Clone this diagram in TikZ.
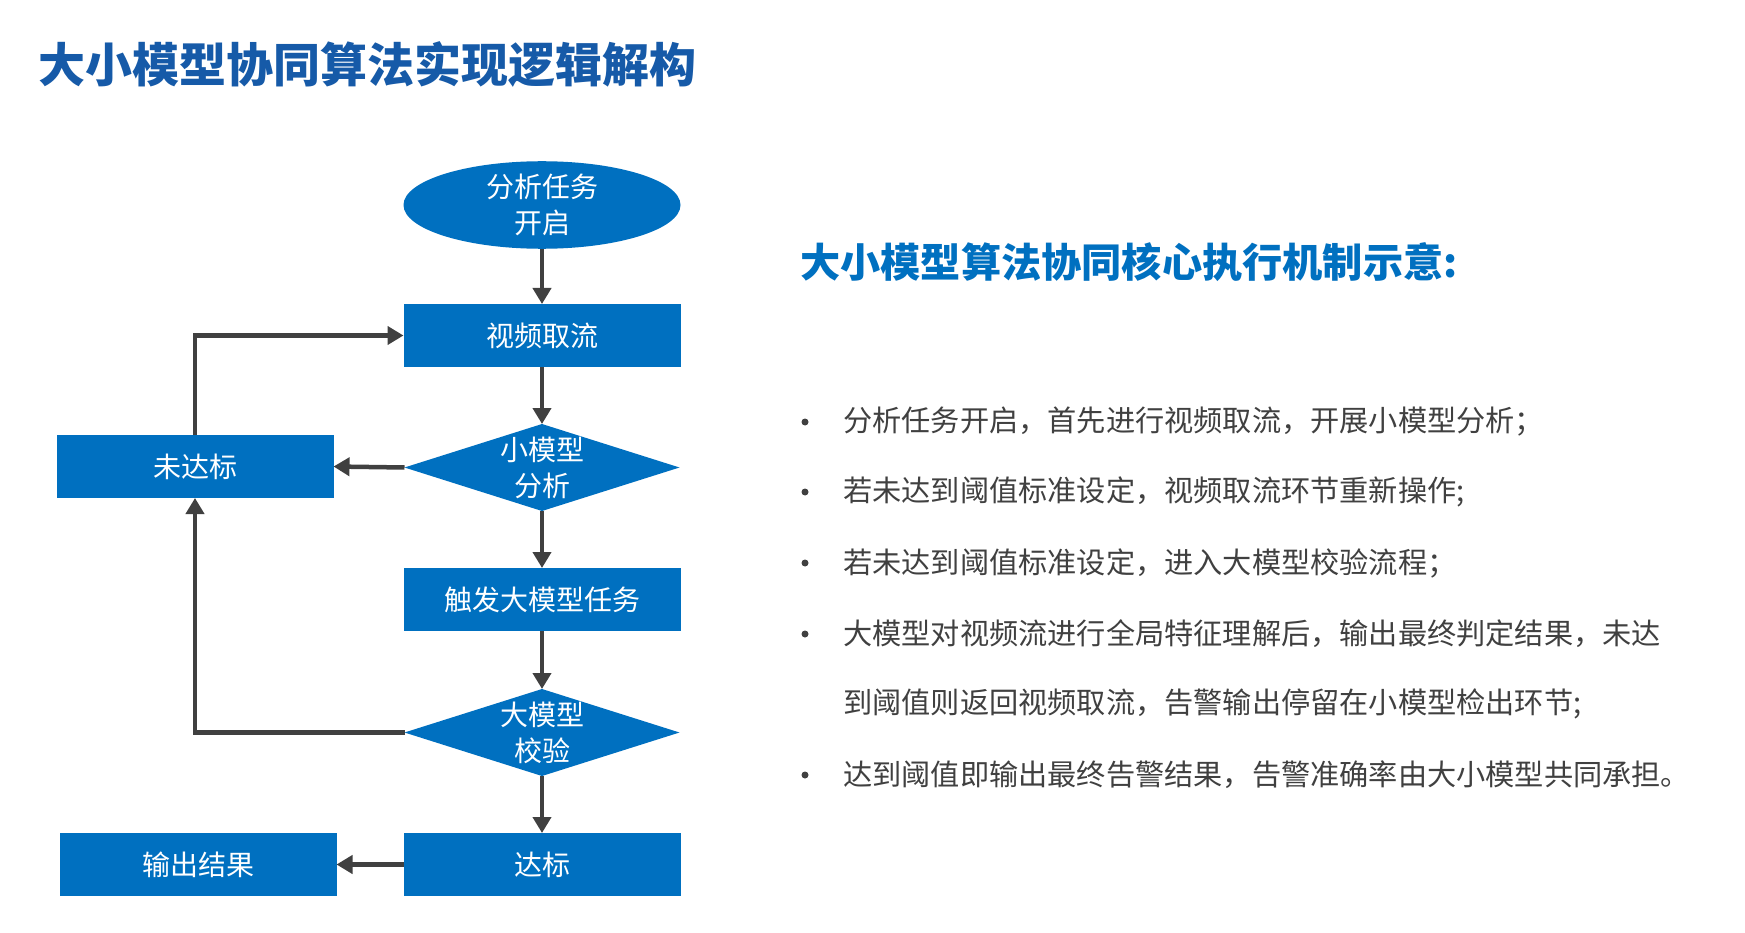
\documentclass[tikz,border=0pt]{standalone}
\usepackage{fontspec}
\setmainfont{Noto Sans CJK SC}
\usetikzlibrary{shapes.geometric, arrows.meta}
\definecolor{titleblue}{RGB}{22,90,168}
\definecolor{headblue}{RGB}{0,112,192}
\definecolor{boxblue}{RGB}{0,112,192}
\definecolor{arrowgray}{RGB}{64,64,64}
\definecolor{textgray}{RGB}{64,64,64}
\begin{document}
\begin{tikzpicture}[x=1pt, y=-1pt, font=\fontsize{28}{36}\selectfont, line join=miter,
    flowbox/.style={fill=boxblue, text=white, minimum width=277pt, minimum height=63pt, outer sep=0pt, inner sep=0pt, align=center},
    decision/.style={diamond, fill=boxblue, minimum width=275pt, minimum height=87pt, outer sep=0pt, inner sep=0pt},
    startnode/.style={ellipse, fill=boxblue, text=white, minimum width=277pt, minimum height=85pt, outer sep=0pt, inner sep=0pt, align=center},
    flowtext/.style={text=white, align=center, inner sep=0pt},
    link/.style={draw=arrowgray, line width=4.5pt, -{Triangle[length=16pt, width=18pt]}},
    point/.style={text=textgray, anchor=west, inner sep=0pt, font=\fontsize{29.2}{35}\selectfont},
    bulletdot/.style={circle, fill=textgray, minimum size=7pt, inner sep=0pt}]
    \useasboundingbox[fill=white] (0,0) rectangle (1745,933);

    % headings
    \node[anchor=west, inner sep=0pt, text=titleblue, font=\fontsize{47}{54}\selectfont\bfseries] (title) at (38,64.5) {大小模型协同算法实现逻辑解构};
    \node[anchor=west, inner sep=0pt, text=headblue, font=\fontsize{40.2}{48}\selectfont\bfseries] (head) at (800,262) {大小模型算法协同核心执行机制示意:};

    % flow chart
    \node[startnode] (start) at (542,205) {分析任务\\开启};
    \node[flowbox] (grab) at (542,335.5) {视频取流};
    \node[decision] (smallchk) at (542,467.5) {};
    \node[flowtext] (smalltxt) at (smallchk) {小模型\\分析};
    \node[flowbox] (fail) at (195,466.5) {未达标};
    \node[flowbox] (trigger) at (542,599.5) {触发大模型任务};
    \node[decision] (bigchk) at (542,732.5) {};
    \node[flowtext] (bigtxt) at (bigchk) {大模型\\校验};
    \node[flowbox] (pass) at (542,864.5) {达标};
    \node[flowbox] (output) at (198,864.5) {输出结果};

    \draw[link] (start) -- (grab);
    \draw[link] (grab) -- (smallchk);
    \draw[link] (smallchk.west) -- (fail.east);
    \draw[link] (smallchk) -- (trigger);
    \draw[link] (trigger) -- (bigchk);
    \draw[link] (bigchk) -- (pass);
    \draw[link] (pass.west) -- (output.east);
    \draw[link] (fail.north) |- (grab.west);
    \draw[link] (bigchk.west) -| (fail.south);

    % bullet list
    \node[bulletdot] (b1) at (805,422) {};
    \node[point] (p1) at (843,422) {分析任务开启，首先进行视频取流，开展小模型分析；};
    \node[bulletdot] (b2) at (805,492) {};
    \node[point] (p2) at (843,492) {若未达到阈值标准设定，视频取流环节重新操作;};
    \node[bulletdot] (b3) at (805,563) {};
    \node[point] (p3) at (843,563) {若未达到阈值标准设定，进入大模型校验流程；};
    \node[bulletdot] (b4) at (805,634) {};
    \node[point] (p4) at (843,634) {大模型对视频流进行全局特征理解后，输出最终判定结果，未达};
    \node[point] (p5) at (843,704) {到阈值则返回视频取流，告警输出停留在小模型检出环节;};
    \node[bulletdot] (b6) at (805,775) {};
    \node[point] (p6) at (843,775) {达到阈值即输出最终告警结果，告警准确率由大小模型共同承担。};
\end{tikzpicture}
\end{document}
